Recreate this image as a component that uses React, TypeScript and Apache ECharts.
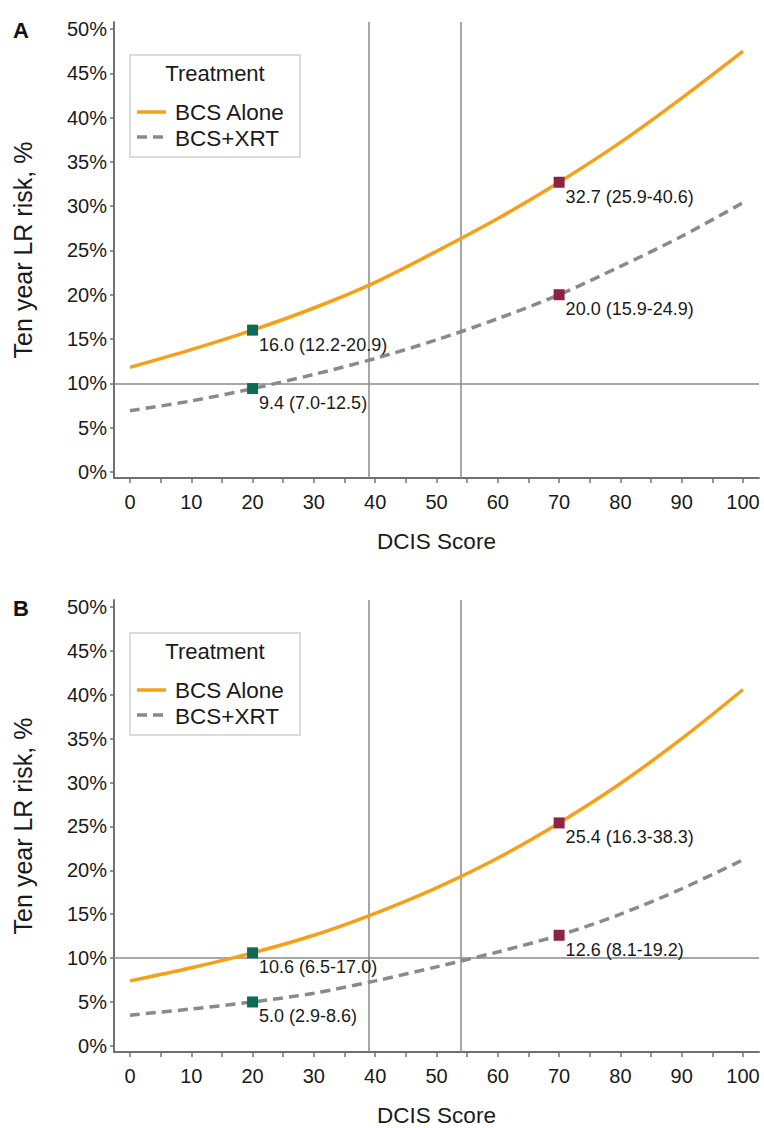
import React, { useEffect, useRef } from "react";
import * as echarts from "echarts";

const scoreX = [0, 10, 20, 30, 40, 50, 60, 70, 80, 90, 100];
const aloneA = [11.8, 13.8, 16.0, 18.5, 21.4, 24.9, 28.6, 32.7, 37.2, 42.2, 47.5];
const xrtA = [6.9, 8.0, 9.4, 11.0, 12.8, 14.9, 17.3, 20.0, 23.2, 26.6, 30.4];
const aloneB = [7.4, 8.9, 10.6, 12.6, 15.1, 18.0, 21.4, 25.4, 29.9, 35.0, 40.6];
const xrtB = [3.5, 4.2, 5.0, 6.0, 7.4, 9.0, 10.7, 12.6, 15.0, 17.9, 21.2];

const markerX = [20, 70];
const markerColors = ["#0b6b55", "#8e2347"];
const aloneMarkA = [16.0, 32.7];
const xrtMarkA = [9.4, 20.0];
const aloneMarkB = [10.6, 25.4];
const xrtMarkB = [5.0, 12.6];
const aloneLabA = ["16.0 (12.2-20.9)", "32.7 (25.9-40.6)"];
const xrtLabA = ["9.4 (7.0-12.5)", "20.0 (15.9-24.9)"];
const aloneLabB = ["10.6 (6.5-17.0)", "25.4 (16.3-38.3)"];
const xrtLabB = ["5.0 (2.9-8.6)", "12.6 (8.1-19.2)"];

const xTickLabels = [0, 10, 20, 30, 40, 50, 60, 70, 80, 90, 100];
const xTickMarks = [0, 5, 10, 15, 20, 25, 30, 35, 40, 45, 50, 55, 60, 65, 70, 75, 80, 85, 90, 95, 100];
const yTickLabels = [0, 5, 10, 15, 20, 25, 30, 35, 40, 45, 50];
const refX = [39, 54];
const refY = 10;

const ORANGE = "#f6a01a";
const GRAY = "#8a8a8a";
const AXIS = "#707070";
const FONT = "Liberation Sans, Arial, sans-serif";

function App() {
  const ref = useRef<HTMLDivElement>(null);
  useEffect(() => {
    if (!ref.current) return;
    const chart = echarts.init(ref.current, null, { renderer: "svg" });

    const grids = [
      { left: 114, top: 22, width: 645, height: 456 },
      { left: 114, top: 600, width: 645, height: 457 },
    ];

    const mkX = (i: number) => ({
      type: "value",
      gridIndex: i,
      min: -2.6,
      max: 102.6,
      name: "DCIS Score",
      nameLocation: "middle",
      nameGap: 52,
      nameTextStyle: { fontFamily: FONT, fontSize: 22.5, color: "#1a1a1a" },
      axisLine: { show: true, onZero: false, lineStyle: { color: AXIS, width: 2 } },
      axisTick: { show: true, length: 5, customValues: xTickMarks, lineStyle: { color: AXIS, width: 1.5 } },
      axisLabel: { customValues: xTickLabels, margin: 14, fontFamily: FONT, fontSize: 20, color: "#1a1a1a" },
      splitLine: { show: false },
    });
    const mkY = (i: number) => ({
      type: "value",
      gridIndex: i,
      min: -0.7,
      max: 50.8,
      name: "Ten year LR risk, %",
      nameLocation: "middle",
      nameGap: 79,
      nameTextStyle: { fontFamily: FONT, fontSize: 25, color: "#1a1a1a" },
      axisLine: { show: true, onZero: false, lineStyle: { color: AXIS, width: 2 } },
      axisTick: { show: true, length: 4, customValues: yTickLabels, lineStyle: { color: AXIS, width: 1.5 } },
      axisLabel: {
        customValues: yTickLabels,
        margin: 7,
        fontFamily: FONT,
        fontSize: 20,
        color: "#1a1a1a",
        formatter: (v: number) => `${v}%`,
      },
      splitLine: { show: false },
    });

    const lineSeries = (i: number, ys: number[], name: string, dashed: boolean, withRef: boolean) => ({
      type: "line",
      name,
      xAxisIndex: i,
      yAxisIndex: i,
      data: scoreX.map((x, k) => [x, ys[k]]),
      smooth: 0.3,
      showSymbol: false,
      z: 3,
      lineStyle: dashed
        ? { color: GRAY, width: 3.5, type: [10, 6] }
        : { color: ORANGE, width: 3.5 },
      markLine: withRef
        ? {
            silent: true,
            symbol: "none",
            z: 1,
            label: { show: false },
            lineStyle: { color: "#8a8a8a", width: 1.5, type: "solid" },
            data: [...refX.map((v) => ({ xAxis: v })), { yAxis: refY }],
          }
        : undefined,
    });

    const markerSeries = (i: number, ys: number[], labels: string[]) => ({
      type: "scatter",
      xAxisIndex: i,
      yAxisIndex: i,
      symbol: "rect",
      symbolSize: 11,
      z: 5,
      itemStyle: { opacity: 1 },
      data: markerX.map((x, k) => ({
        value: [x, ys[k]],
        itemStyle: { color: markerColors[k], opacity: 1 },
        label: {
          show: true,
          formatter: labels[k],
          position: [12, 20],
          align: "left",
          verticalAlign: "middle",
          fontFamily: FONT,
          fontSize: 18,
          color: "#1a1a1a",
          opacity: 1,
        },
      })),
    });

    const legend = (top: number) => [
      {
        type: "rect",
        shape: { x: 130, y: top, width: 170, height: 102 },
        style: { fill: "#fff", stroke: "#cfcfcf", lineWidth: 1.5 },
        z: 10,
      },
      {
        type: "text",
        x: 215,
        y: top + 18,
        style: {
          text: "Treatment",
          fontFamily: FONT,
          fontSize: 22,
          fill: "#1a1a1a",
          align: "center",
          verticalAlign: "middle",
        },
        z: 11,
      },
      {
        type: "line",
        shape: { x1: 137, y1: top + 57, x2: 166, y2: top + 57 },
        style: { stroke: ORANGE, lineWidth: 3.5 },
        z: 11,
      },
      {
        type: "line",
        shape: { x1: 137, y1: top + 82, x2: 166, y2: top + 82 },
        style: { stroke: GRAY, lineWidth: 3.5, lineDash: [10, 6] },
        z: 11,
      },
      {
        type: "text",
        x: 175,
        y: top + 57,
        style: { text: "BCS Alone", fontFamily: FONT, fontSize: 22.5, fill: "#1a1a1a", verticalAlign: "middle" },
        z: 11,
      },
      {
        type: "text",
        x: 175,
        y: top + 83,
        style: { text: "BCS+XRT", fontFamily: FONT, fontSize: 22.5, fill: "#1a1a1a", verticalAlign: "middle" },
        z: 11,
      },
    ];

    chart.setOption({
      animation: false,
      backgroundColor: "#fff",
      grid: grids,
      xAxis: [mkX(0), mkX(1)],
      yAxis: [mkY(0), mkY(1)],
      series: [
        lineSeries(0, aloneA, "BCS Alone", false, true),
        lineSeries(0, xrtA, "BCS+XRT", true, false),
        markerSeries(0, aloneMarkA, aloneLabA),
        markerSeries(0, xrtMarkA, xrtLabA),
        lineSeries(1, aloneB, "BCS Alone", false, true),
        lineSeries(1, xrtB, "BCS+XRT", true, false),
        markerSeries(1, aloneMarkB, aloneLabB),
        markerSeries(1, xrtMarkB, xrtLabB),
      ],
      graphic: [
        {
          type: "text",
          x: 13,
          y: 30,
          style: { text: "A", fontFamily: FONT, fontSize: 22, fontWeight: "bold", fill: "#111", verticalAlign: "middle" },
        },
        {
          type: "text",
          x: 13,
          y: 608,
          style: { text: "B", fontFamily: FONT, fontSize: 22, fontWeight: "bold", fill: "#111", verticalAlign: "middle" },
        },
        ...legend(55),
        ...legend(633),
      ],
    });
    return () => chart.dispose();
  }, []);
  return (
    <div
      ref={ref}
      style={{ position: "absolute", left: 0, top: 0, width: 764, height: 1128, background: "#fff" }}
    />
  );
}

export default App;
